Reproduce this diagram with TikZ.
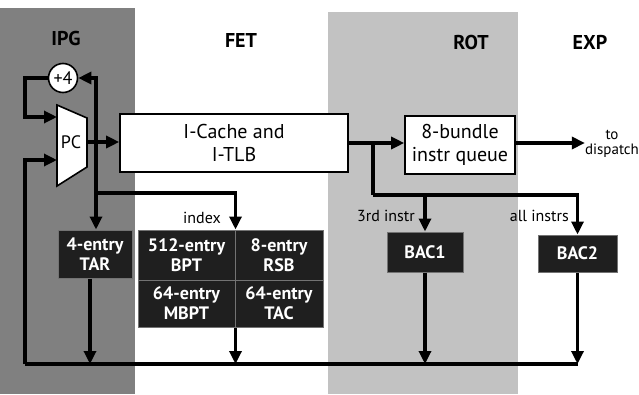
\documentclass[tikz,border=0pt]{standalone}
\usepackage{fontspec}
\setmainfont{PT Sans}
\usetikzlibrary{arrows.meta}
\tikzset{
  arr/.style={line width=3.2pt,-{Triangle[length=13pt,width=12pt]}},
  wire/.style={line width=3.2pt},
  whitebox/.style={draw,line width=1.6pt,fill=white,align=center,inner sep=0pt,
    font=\fontsize{20}{23}\selectfont},
  darkbox/.style={draw=black!55,line width=1pt,fill=black!88,text=white,align=center,inner sep=0pt,
    font=\bfseries\fontsize{18}{20}\selectfont},
  stage/.style={font=\bfseries\fontsize{20}{22}\selectfont},
  lbl/.style={font=\fontsize{16}{17}\selectfont,inner sep=1pt},
}
\begin{document}
\begin{tikzpicture}[x=1pt,y=-1pt]
\useasboundingbox (0,0) rectangle (639,394);
% stage columns
\fill[black!50] (0,8) rectangle (135,394);
\fill[black!24] (328,12) rectangle (518,394);
\node[stage] (ipg) at (66,38) {IPG};
\node[stage] (fet) at (241,40) {FET};
\node[stage] (rot) at (471,42) {ROT};
\node[stage] (exp) at (590,42) {EXP};
% +4 and PC
\node[circle,draw,line width=1.6pt,fill=white,minimum size=29pt,inner sep=0pt,
  font=\fontsize{18}{18}\selectfont] (inc) at (63,78) {+4};
\draw[line width=1.6pt,fill=white] (57,105) -- (87,118) -- (87,167) -- (57,186) -- cycle;
\node[font=\fontsize{18}{18}\selectfont] (pc) at (71,142) {PC};
\coordinate (pcin1) at (57,117);
\coordinate (pcin2) at (57,160);
\coordinate (pcout) at (87,142);
\coordinate (lx) at (25,78);
\coordinate (j1) at (96,142);
\coordinate (j2) at (96,193);
% boxes
\node[whitebox,minimum width=228pt,minimum height=58pt] (cache) at (234,143) {I-Cache and\\I-TLB};
\node[whitebox,minimum width=110pt,minimum height=58pt] (queue) at (460,145) {8-bundle\\instr queue};
\node[align=center,font=\fontsize{15}{15}\selectfont,inner sep=0pt] (disp) at (612,144) {to\\dispatch};
\node[darkbox,minimum width=74pt,minimum height=48pt] (tar) at (95,254) {4-entry\\TAR};
\node[darkbox,minimum width=97pt,minimum height=50pt] (bpt) at (186.5,255) {512-entry\\BPT};
\node[darkbox,minimum width=88pt,minimum height=50pt] (rsb) at (279,255) {8-entry\\RSB};
\node[darkbox,minimum width=97pt,minimum height=47pt] (mbpt) at (186.5,303.5) {64-entry\\MBPT};
\node[darkbox,minimum width=88pt,minimum height=47pt] (tac) at (279,303.5) {64-entry\\TAC};
\node[darkbox,minimum width=76pt,minimum height=40pt] (bac1) at (425,252) {BAC1};
\node[darkbox,minimum width=79pt,minimum height=37pt] (bac2) at (577.5,253.5) {BAC2};
\node[lbl,anchor=east] (idx) at (222,218) {index};
\node[lbl,anchor=east] (third) at (416,216) {3rd instr};
\node[lbl,anchor=east] (allin) at (570,216) {all instrs};
% bus
\coordinate (busL) at (25,364);
\coordinate (busR) at (577.5,364);
\draw[wire] (busL) -- (busR);
% connectors
\draw[arr] (inc.west) -- (lx) |- (pcin1);
\draw[arr] (busL) |- (pcin2);
\draw[arr] (pcout) -- (pcout -| cache.west);
\draw[arr] (j1) |- (inc.east);
\draw[arr] (j1) -- (j1 |- tar.north);
\draw[arr] (j2) -| (bpt.north east);
\draw[arr] ([xshift=-5pt]tar.south) -- ([xshift=-5pt]tar.south |- busL);
\draw[arr] (mbpt.south east) -- (mbpt.south east |- busL);
\draw[arr] (cache.east) -- (cache.east -| queue.west);
\coordinate (j3) at (373,143);
\coordinate (j4) at (373,195);
\draw[wire] (j3) -- (j4);
\draw[arr] (j4) -| (bac2.north);
\draw[arr] (j4 -| bac1.north) -- (bac1.north);
\draw[arr] (bac1.south) -- (bac1.south |- busL);
\draw[arr] (bac2.south) -- (busR);
\draw[arr] (queue.east |- cache.east) -- (disp.west |- cache.east);
\end{tikzpicture}
\end{document}
